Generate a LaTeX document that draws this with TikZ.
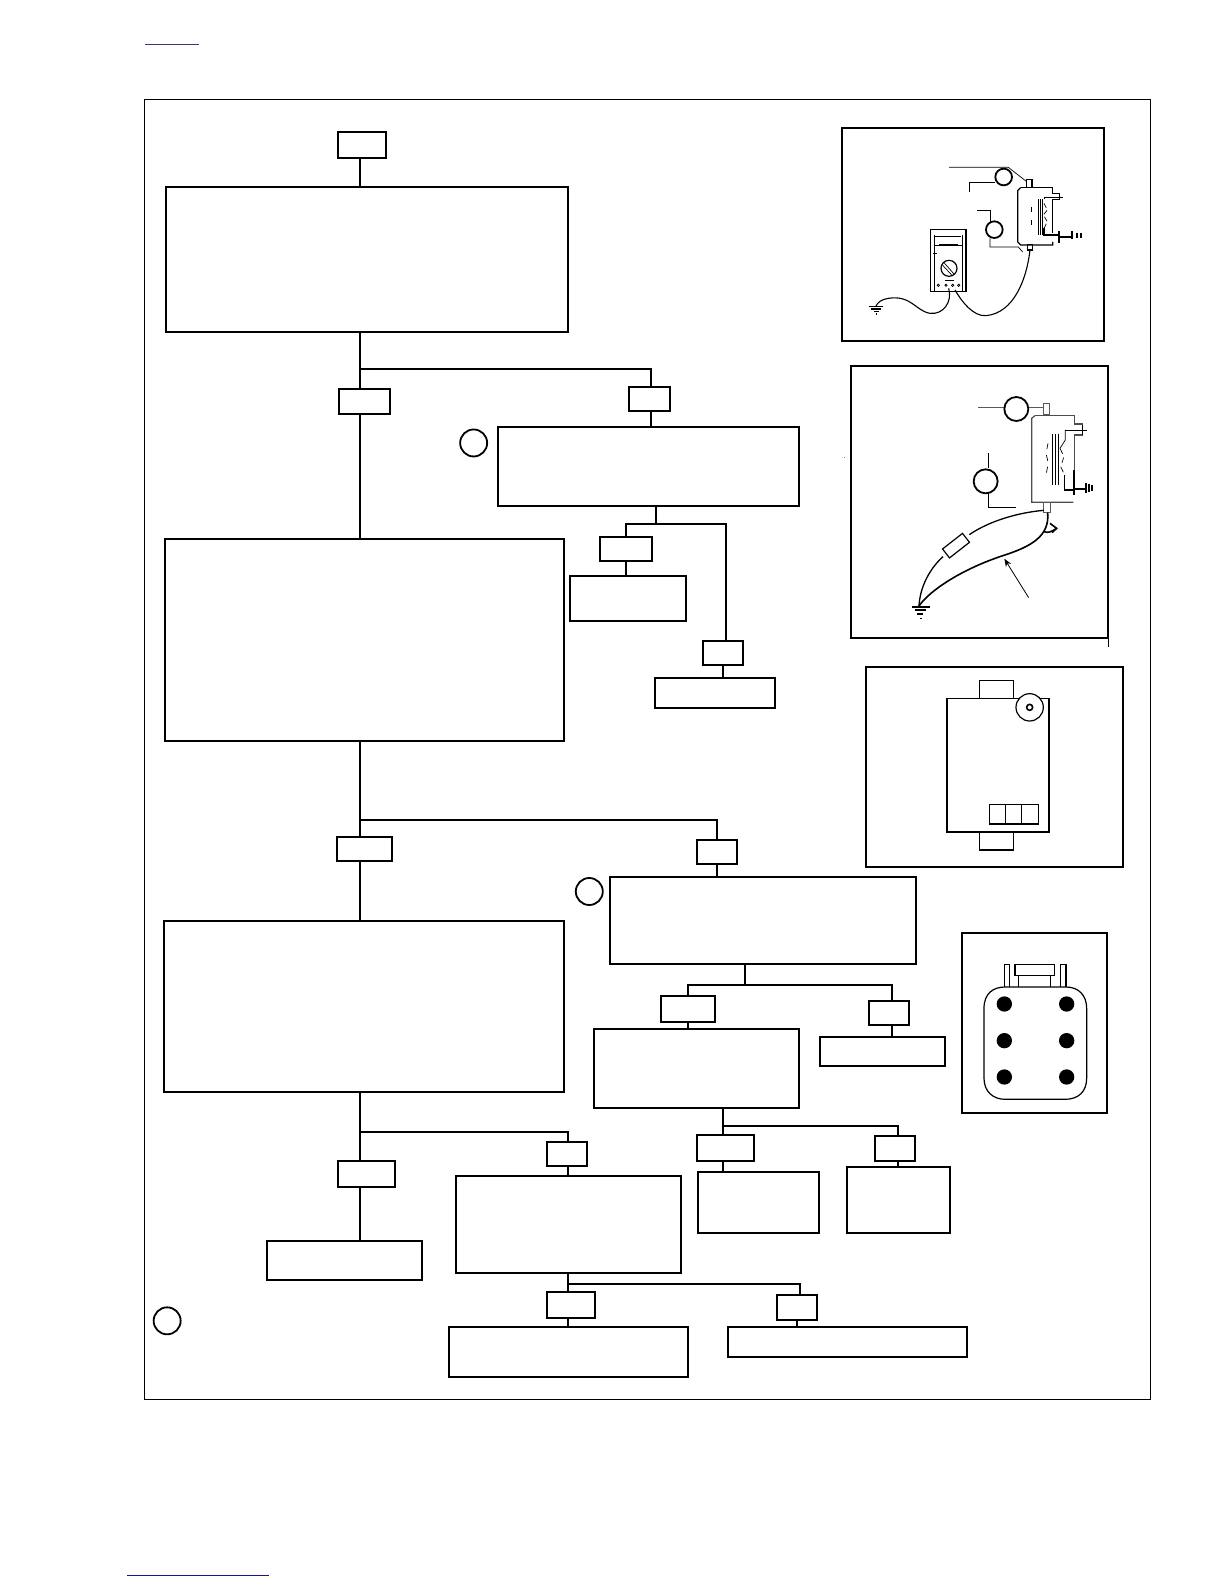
\documentclass[tikz,border=0pt]{standalone}
\usetikzlibrary{arrows.meta}
\definecolor{linka}{RGB}{70,50,130}
\definecolor{linkb}{RGB}{20,20,140}
\tikzset{
  fbox/.style={draw=black,line width=2pt,inner sep=0pt,fill=none},
  conn/.style={draw=black,line width=2pt},
  callout/.style={circle,draw=black,line width=1.8pt,inner sep=0pt,minimum size=27pt},
  frameb/.style={draw=black,line width=2pt},
  fine/.style={draw=black,line width=.7pt},
  med/.style={draw=black,line width=1.2pt},
  heavy/.style={draw=black,line width=1.8pt}
}
% \bx{name}{x1}{y1}{x2}{y2}: box in coordinates of the 1212 x 1568 view
\newcommand{\bx}[5]{%
  \pgfmathsetmacro{\bcx}{(#2+#4)/2*1.0099+0.2}%
  \pgfmathsetmacro{\bcy}{(#3+#5)/2*1.0102+0.7}%
  \pgfmathsetmacro{\bw}{(#4-#2)*1.0099}%
  \pgfmathsetmacro{\bh}{(#5-#3)*1.0102}%
  \node[fbox,minimum width=\bw pt,minimum height=\bh pt] (#1) at (\bcx,\bcy) {};}
\newcommand{\cp}[3]{\coordinate (#1) at ({#2*1.0099},{#3*1.0102+0.7});}
\begin{document}
\begin{tikzpicture}[x=1pt,y=-1pt]
\useasboundingbox (0,0) rectangle (1224,1584);
% page links
\draw[linka,line width=1pt] (145,45) -- (199,45);
\draw[linkb,line width=1pt] (127,1575) -- (269,1575);
% outer frame
\draw[line width=1.2pt] (144.5,99.5) rectangle (1150.5,1399.5);
% flow boxes
\bx{start}{334}{130}{382}{156}
\bx{mainA}{164}{184}{562}{328}
\bx{tagAl}{335}{384}{386}{409}
\bx{tagAr}{623}{382}{663}{406}
\bx{boxB}{493}{422}{791}{500}
\bx{tagBl}{594}{531}{645}{555}
\bx{boxBl}{564}{569}{679}{614}
\bx{tagBr}{696}{634}{736}{658}
\bx{boxBr}{648}{670}{767}{700}
\bx{mainB}{163}{533}{558}{733}
\bx{tagCl}{333}{828}{388}{852}
\bx{tagCr}{690}{831}{730}{855}
\bx{boxC}{604}{867}{907}{954}
\bx{tagDl}{654}{985}{708}{1011}
\bx{boxDl}{588}{1018}{791}{1096}
\bx{tagDr}{860}{990}{900}{1014}
\bx{boxDr}{812}{1026}{936}{1055}
\bx{tagEl}{690}{1123}{746}{1149}
\bx{boxEl}{691}{1159}{811}{1220}
\bx{tagEr}{866}{1124}{906}{1149}
\bx{boxEr}{838.5}{1155}{940}{1220}
\bx{mainC}{162}{911}{558}{1080}
\bx{tagFl}{334}{1149}{391}{1174}
\bx{boxFl}{264}{1228}{418}{1266}
\bx{tagFr}{541}{1130}{581}{1154}
\bx{boxF}{451}{1163}{674}{1259}
\bx{tagGl}{541}{1278}{589}{1304}
\bx{boxGl}{444.5}{1313}{681}{1362}
\bx{tagGr}{769}{1281}{809}{1306}
\bx{boxGr}{721}{1313}{957.5}{1343}
% callouts
\node[callout] (cA) at ({469*1.0099},{438*1.0102+.5}) {};
\node[callout] (cB) at ({583.5*1.0099},{882.5*1.0102}) {};
\node[callout] (cC) at ({165.5*1.0099},{1307*1.0102+.5}) {};
% trunk x positions
\cp{tx}{356.5}{0}
\cp{jA}{356.5}{365}
\cp{jAr}{645}{365}
\cp{jC}{356.5}{811}
\cp{jCr}{710}{811}
\cp{jF}{356.5}{1120}
\cp{jFr}{562}{1120}
\cp{jB}{650}{518}
\cp{jBl}{620}{518}
\cp{jBr}{719}{518}
\cp{jD}{738}{974}
\cp{jDl}{681}{974}
\cp{jDr}{883}{974}
\cp{jE}{716}{1114}
\cp{jEr}{889}{1114}
\cp{jG}{562}{1270}
\cp{jGr}{792}{1270}
% connectors
\draw[conn] (tx |- start.south) -- (tx |- mainA.north);
\draw[conn] (tx |- mainA.south) -- (tx |- tagAl.north);
\draw[conn] (tx |- tagAl.south) -- (tx |- mainB.north);
\draw[conn] (jA) -- (jAr) -- (jAr |- tagAr.north);
\draw[conn] (jAr |- tagAr.south) -- (jAr |- boxB.north);
\draw[conn] (jB |- boxB.south) -- (jB);
\draw[conn] (jBl |- tagBl.north) -- (jBl) -- (jBr) -- (jBr |- tagBr.north);
\draw[conn] (jBl |- tagBl.south) -- (jBl |- boxBl.north);
\draw[conn] (tagBr.south) -- (tagBr.south |- boxBr.north);
\draw[conn] (tx |- mainB.south) -- (tx |- tagCl.north);
\draw[conn] (tx |- tagCl.south) -- (tx |- mainC.north);
\draw[conn] (jC) -- (jCr) -- (jCr |- tagCr.north);
\draw[conn] (jCr |- tagCr.south) -- (jCr |- boxC.north);
\draw[conn] (jD |- boxC.south) -- (jD);
\draw[conn] (jDl |- tagDl.north) -- (jDl) -- (jDr) -- (jDr |- tagDr.north);
\draw[conn] (jDl |- tagDl.south) -- (jDl |- boxDl.north);
\draw[conn] (jDr |- tagDr.south) -- (jDr |- boxDr.north);
\draw[conn] (jE |- boxDl.south) -- (jE |- tagEl.north);
\draw[conn] (jE) -- (jEr) -- (jEr |- tagEr.north);
\draw[conn] (jE |- tagEl.south) -- (jE |- boxEl.north);
\draw[conn] (jEr |- tagEr.south) -- (jEr |- boxEr.north);
\draw[conn] (tx |- mainC.south) -- (tx |- tagFl.north);
\draw[conn] (tx |- tagFl.south) -- (tx |- boxFl.north);
\draw[conn] (jF) -- (jFr) -- (jFr |- tagFr.north);
\draw[conn] (jFr |- tagFr.south) -- (jFr |- boxF.north);
\draw[conn] (jG |- boxF.south) -- (jG |- tagGl.north);
\draw[conn] (jG) -- (jGr) -- (jGr |- tagGr.north);
\draw[conn] (jG |- tagGl.south) -- (jG |- boxGl.north);
\draw[conn] (tagGr.south) -- (tagGr.south |- boxGr.north);

% Panel A (coordinates of the 3x crop)
\begin{scope}[shift={(830,120)},x=.3333pt,y=-.3333pt]
\draw[frameb] (36,24) rectangle (822,662);
\draw[fine] (357,142) -- (535,142) -- (590,185);
\draw[fine] (418,215) -- (418,187) -- (495,187);
\draw[heavy] (521,171) circle (25);
\draw[fine] (442,270) -- (480,270) -- (480,305);
\draw[fine] (480,355) -- (480,381) -- (565,381) -- (578,396);
\draw[heavy] (493,329) circle (25);
\draw[med] (590,178) rectangle (606,203);
\draw[med] (592,373) rectangle (608,390);
\draw[med] (572,203) -- (668,203) -- (668,220) -- (688,220) -- (688,238) -- (668,238) -- (668,340);
\draw[med] (668,366) -- (668,375) -- (572,375) -- (563,366) -- (563,212) -- (572,203);
\draw[fine] (624,238) -- (624,345) (631,238) -- (631,345) (638,238) -- (638,345);
\draw[fine] (642,238) -- (642,232) -- (698,232);
\draw[fine,dash pattern=on 5pt off 8pt] (603,260) -- (603,320);
\draw[fine,dash pattern=on 5pt off 3pt] (642,250) -- (652,270) -- (640,285) -- (652,305) -- (642,325);
\draw[med] (642,325) -- (642,345) -- (688,345);
\draw[line width=1.8pt] (688,333) -- (688,368);
\draw[line width=1.8pt] (688,350) -- (725,350);
\draw[line width=1.8pt] (727,333) -- (727,358) (740,338) -- (740,354) (752,340) -- (752,353);
% meter
\draw[med] (302,328) rectangle (408,515);
\draw[line width=1.6pt] (302,328) -- (408,328);
\draw[fine] (312,345) -- (312,513) -- (398,513) -- (398,345);
\draw[fine] (315,375) -- (395,375) (328,372) -- (385,372) (315,350) -- (393,350);
\draw[med] (310,400) -- (322,400);
\draw[med] (357,445) circle (24);
\draw[fine] (342,428) -- (372,462) (338,436) -- (366,466);
\draw[fine] (345,480) -- (372,480);
\draw[fine] (325,496) circle (3.5) (348,496) circle (3.5) (368,496) circle (3.5) (386,496) circle (3.5);
% leads
\draw[line width=1.1pt] (356,505) .. controls (368,545) and (340,585) .. (300,580)
   .. controls (255,572) and (245,525) .. (175,535) .. controls (155,538) and (142,548) .. (138,558);
\draw[line width=1.1pt] (375,510) .. controls (395,545) and (430,590) .. (468,587)
   .. controls (550,580) and (590,480) .. (600,390);
\draw[med] (118,559) -- (160,559) (124,567) -- (154,567) (132,574) -- (146,574) (137,582) -- (142,582);
\end{scope}

% Panel B
\begin{scope}[shift={(840,360)},x=.3333pt,y=-.3333pt]
\draw[frameb] (32,18) rectangle (805,833);
\draw[line width=1pt] (806,812) -- (806,860);
\fill[gray] (11.5,292) rectangle (14,295);
\draw[gray!70!black,line width=1.2pt] (415,143) -- (492,143) (565,143) -- (610,143);
\draw[heavy] (529,147) circle (36);
\draw[med,gray!70!black] (610,130) rectangle (628,165);
\draw[fine] (446,280) -- (446,325);
\draw[fine] (446,400) -- (446,441) -- (527,441);
\draw[heavy] (437,364) circle (36);
\draw[med,gray!60!black] (585,167) -- (703,167) -- (703,192) -- (728,192) -- (728,225) -- (703,225) -- (703,330);
\draw[med,gray!60!black] (700,427) -- (575,427) -- (575,175) -- (585,167);
\draw[med,gray!70!black] (611,427) rectangle (631,458);
\draw[fine] (636,222) -- (636,375) (646,222) -- (646,375) (654,222) -- (654,375);
\draw[fine] (676,210) -- (740,210) (728,195) -- (728,225);
\draw[fine] (676,210) -- (676,240) -- (660,265);
\draw[fine,dash pattern=on 6pt off 6pt] (624,250) -- (618,280) -- (625,310) -- (618,345);
\draw[fine,dash pattern=on 6pt off 4pt] (660,265) -- (672,290) -- (662,320) -- (674,345);
\draw[med] (674,345) -- (674,390) -- (702,390);
\draw[line width=1.8pt] (702,330) -- (702,405);
\draw[line width=1.8pt] (702,388) -- (737,388);
\draw[line width=1.8pt] (738,368) -- (738,400) (748,372) -- (748,396) (757,375) -- (757,392);
% leads
\draw[line width=1.3pt] (612,451) .. controls (530,458) and (445,485) .. (388,524);
\draw[med,rotate around={38:(348,557)}] (310,540) rectangle (386,574);
\draw[line width=1.3pt] (309,590) .. controls (270,625) and (240,680) .. (237,738);
\draw[line width=1.6pt] (237,738) .. controls (270,690) and (370,625) .. (495,585)
   .. controls (570,560) and (630,530) .. (623,458);
\draw[line width=1.6pt] (612,515) .. controls (625,520) and (635,515) .. (650,505);
\draw[line width=1.6pt] (630,490) -- (650,505) -- (636,518);
\draw[line width=.8pt,-{Stealth[length=8pt,width=6pt]}] (566,713) -- (493,596);
\draw[line width=1.8pt] (215,741) -- (270,741) (226,751) -- (259,751);
\draw[line width=1.2pt] (232,762) -- (250,762) (240,775) -- (246,775);
\end{scope}

% Panel C
\begin{scope}[shift={(860,660)},x=.3333pt,y=-.3333pt]
\draw[frameb] (18,20) rectangle (790,620);
\draw[line width=1.6pt] (261,116) rectangle (567,516);
\draw[line width=1.6pt] (359,116) -- (359,62) -- (460,62) -- (460,116);
\draw[line width=1.6pt] (359,516) -- (359,570) -- (460,570) -- (460,516);
\draw[line width=1.6pt] (389,434) rectangle (535,492);
\draw[line width=1.6pt] (436,434) -- (436,492) (484,434) -- (484,492);
\draw[line width=1.2pt,fill=white] (509,142) circle (41);
\draw[line width=1.6pt] (509,142) circle (9);
\end{scope}

% Panel D
\begin{scope}[shift={(950,925)},x=.3333pt,y=-.3333pt]
\draw[frameb] (36,24) rectangle (470,564);
\draw[med] (102,250) .. controls (102,205) and (130,186) .. (165,186) -- (348,186)
  .. controls (385,186) and (410,210) .. (410,250) -- (410,460)
  .. controls (410,500) and (385,523) .. (345,523) -- (165,523)
  .. controls (130,523) and (102,500) .. (102,460) -- cycle;
\draw[med] (163,186) -- (163,118) -- (178,118) -- (178,186);
\draw[med] (332,186) -- (332,118) -- (348,118) -- (348,186);
\draw[med] (195,118) rectangle (314,152);
\draw[med] (205,152) -- (205,186) (302,152) -- (302,186);
\foreach \px in {163,350}{\foreach \py in {237,347,456}{\fill (\px,\py) circle (23);}}
\end{scope}
\end{tikzpicture}
\end{document}
